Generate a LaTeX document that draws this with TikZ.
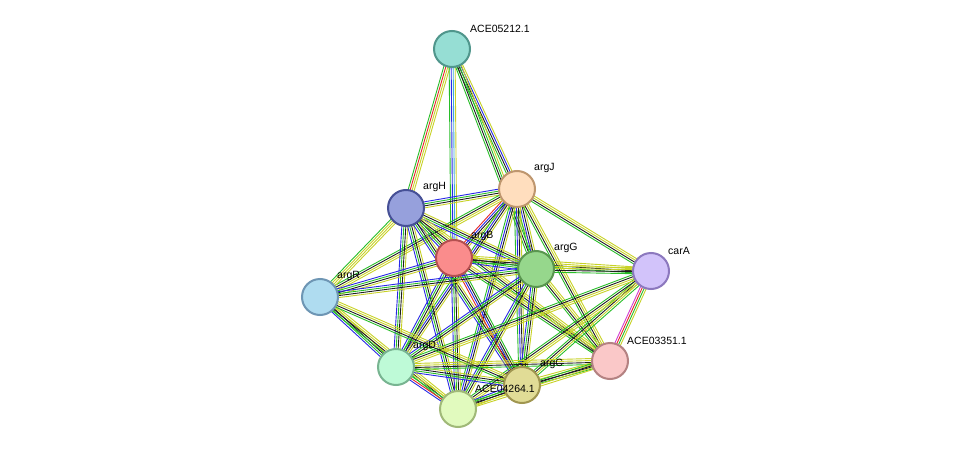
\documentclass[tikz,border=0pt]{standalone}
\usepackage{fontspec}
\setmainfont{Liberation Sans}
\usetikzlibrary{calc}
\definecolor{eg}{RGB}{40,190,40}
\definecolor{ey}{RGB}{200,210,40}
\definecolor{eb}{RGB}{40,40,230}
\definecolor{er}{RGB}{230,40,40}
\definecolor{em}{RGB}{210,60,210}
\definecolor{ek}{RGB}{30,30,30}
\definecolor{ec}{RGB}{60,170,220}
\newcommand\edg[3]{\foreach \c [count=\i] in {#3} {\pgfmathsetmacro\o{(\i-2.5)*2}
  \draw[\c, line width=0.9pt] ($(#1)!\o pt!90:(#2)$) -- ($(#2)!\o pt!-90:(#1)$);}}
\begin{document}
\begin{tikzpicture}[x=1pt,y=-1pt,
  prot/.style={circle,draw,line width=2pt,minimum size=36pt,inner sep=0pt},
  lab/.style={font=\fontsize{10.5}{12}\selectfont,anchor=south west,inner sep=1pt}]
\useasboundingbox[fill=white] (0,0) rectangle (975,455);
\coordinate (ACE05212) at (452,49);
\coordinate (argJ) at (517,189);
\coordinate (argH) at (406,208);
\coordinate (argB) at (454,258);
\coordinate (argG) at (536,269);
\coordinate (carA) at (651,271);
\coordinate (argR) at (320,297);
\coordinate (ACE03351) at (610,361);
\coordinate (argD) at (396,367);
\coordinate (argC) at (522,385);
\coordinate (ACE04264) at (458,409);
% edges
\edg{ACE05212}{argH}{eg,er,ey,ey}
\edg{ACE05212}{argB}{eg,eb,ec,ey}
\edg{ACE05212}{argJ}{eg,ek,eb,ey}
\edg{ACE05212}{argG}{eg,ek,eg,ey}
\edg{argJ}{argH}{eb,eg,ek,ey}
\edg{argJ}{argB}{er,eb,ek,ey}
\edg{argJ}{argG}{eg,eb,ek,ey}
\edg{argJ}{carA}{eg,ek,ey,ey}
\edg{argJ}{ACE03351}{eg,ek,ey,ey}
\edg{argJ}{argC}{eg,eb,ek,ey}
\edg{argJ}{ACE04264}{eg,eb,ek,ey}
\edg{argJ}{argD}{eg,eb,ek,ey}
\edg{argJ}{argR}{eg,ek,ey,ey}
\edg{argH}{argB}{eb,eg,ek,ey}
\edg{argH}{argG}{eb,eg,ek,ey}
\edg{argH}{argR}{eg,ey,ey,ey}
\edg{argH}{argD}{eb,eg,ek,ey}
\edg{argH}{ACE04264}{eb,eg,ek,ey}
\edg{argH}{argC}{eb,eg,ek,ey}
\edg{argH}{ACE03351}{eg,ek,ey,ey}
\edg{argB}{argG}{eb,eg,ek,ey}
\edg{argB}{argR}{eb,eg,ek,ey}
\edg{argB}{argD}{eb,eg,ek,ey}
\edg{argB}{argC}{er,eb,ek,eg}
\edg{argB}{ACE04264}{eb,eg,ek,ey}
\edg{argB}{carA}{eg,ek,ey,ey}
\edg{argB}{ACE03351}{eg,ek,ey,ey}
\edg{argG}{carA}{eg,ek,ey,ey}
\edg{argG}{argR}{eb,eg,ek,ey}
\edg{argG}{argD}{eb,eg,ek,ey}
\edg{argG}{argC}{eb,eg,ek,ey}
\edg{argG}{ACE04264}{eb,eg,ek,ey}
\edg{argG}{ACE03351}{eg,ek,ey,ey}
\edg{carA}{ACE03351}{em,er,eg,ey}
\edg{carA}{argC}{eg,ek,ey,eg}
\edg{carA}{ACE04264}{eg,ek,ey,ey}
\edg{carA}{argD}{eg,ek,ey,ey}
\edg{argR}{argD}{eb,eg,ek,ey}
\edg{argR}{ACE04264}{eg,ek,ey,ey}
\edg{argR}{argC}{eg,ek,ey,ey}
\edg{argD}{ACE04264}{eb,er,eg,ey}
\edg{argD}{argC}{eb,eg,ek,ey}
\edg{argD}{ACE03351}{eg,ek,ey,ey}
\edg{argC}{ACE04264}{eb,eg,ek,ey}
\edg{argC}{ACE03351}{eg,ek,ey,ey}
\edg{ACE03351}{ACE04264}{eg,ek,ey,ey}
% nodes
\node[prot,fill={rgb,255:red,150;green,222;blue,212},draw={rgb,255:red,80;green,150;blue,140}] (n1) at (ACE05212) {};
\node[prot,fill={rgb,255:red,255;green,222;blue,190},draw={rgb,255:red,190;green,150;blue,110}] (n2) at (argJ) {};
\node[prot,fill={rgb,255:red,150;green,160;blue,220},draw={rgb,255:red,70;green,80;blue,150}] (n3) at (argH) {};
\node[prot,fill={rgb,255:red,250;green,140;blue,140},draw={rgb,255:red,180;green,80;blue,80}] (n4) at (argB) {};
\node[prot,fill={rgb,255:red,150;green,215;blue,140},draw={rgb,255:red,90;green,150;blue,80}] (n5) at (argG) {};
\node[prot,fill={rgb,255:red,210;green,195;blue,250},draw={rgb,255:red,140;green,120;blue,190}] (n6) at (carA) {};
\node[prot,fill={rgb,255:red,175;green,220;blue,240},draw={rgb,255:red,110;green,150;blue,180}] (n7) at (argR) {};
\node[prot,fill={rgb,255:red,250;green,200;blue,200},draw={rgb,255:red,180;green,130;blue,130}] (n8) at (ACE03351) {};
\node[prot,fill={rgb,255:red,190;green,250;blue,215},draw={rgb,255:red,120;green,180;blue,145}] (n9) at (argD) {};
\node[prot,fill={rgb,255:red,225;green,220;blue,150},draw={rgb,255:red,160;green,150;blue,80}] (n10) at (argC) {};
\node[prot,fill={rgb,255:red,225;green,250;blue,190},draw={rgb,255:red,160;green,185;blue,120}] (n11) at (ACE04264) {};
% labels
\node[lab] at (469,34) {ACE05212.1};
\node[lab] at (533,174) {argJ};
\node[lab] at (422,193) {argH};
\node[lab] at (470,242) {argB};
\node[lab] at (553,254) {argG};
\node[lab] at (667,256) {carA};
\node[lab] at (336,282) {argR};
\node[lab] at (626,346) {ACE03351.1};
\node[lab] at (412,352) {argD};
\node[lab] at (539,370) {argC};
\node[lab] at (474,394) {ACE04264.1};
\end{tikzpicture}
\end{document}
